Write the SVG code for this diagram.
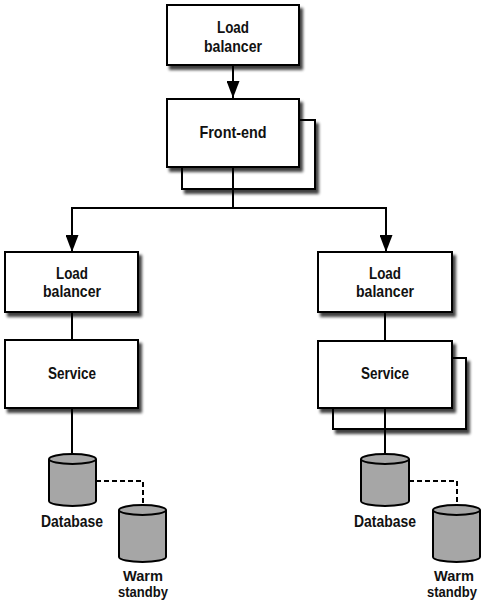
<svg xmlns="http://www.w3.org/2000/svg" width="485" height="606" viewBox="0 0 485 606">
<defs>
<filter id="sh" x="-10%" y="-10%" width="130%" height="140%">
<feGaussianBlur in="SourceAlpha" stdDeviation="1.6"/>
<feOffset dx="3" dy="4" result="b"/>
<feComponentTransfer><feFuncA type="linear" slope="0.75"/></feComponentTransfer>
<feMerge><feMergeNode/><feMergeNode in="SourceGraphic"/></feMerge>
</filter>
<marker id="ah" viewBox="0 0 17 13" refX="17" refY="6.5" markerWidth="17" markerHeight="13" markerUnits="userSpaceOnUse" orient="auto">
<path d="M0,0 L17,6.5 L0,13 Z" fill="#000"/>
</marker>
</defs>
<style>
.box{fill:#fff;stroke:#000;stroke-width:2;filter:url(#sh)}
.cyl{fill:#a6a6a6;stroke:#000;stroke-width:2}
.ln{stroke:#000;stroke-width:2;fill:none}
.dash{stroke:#000;stroke-width:2;fill:none;stroke-dasharray:5,3}
text{font-family:"Liberation Sans",Arial,sans-serif;font-weight:bold;font-size:17px;text-anchor:middle;fill:#111}
text.sm{font-size:15px}
</style>
<g id="connectors">
<line class="ln" x1="233" y1="65" x2="233" y2="98" marker-end="url(#ah)"/>
<line class="ln" x1="233" y1="167" x2="233" y2="208"/>
<polyline class="ln" points="72,216 72,208 386,208 386,216"/>
<line class="ln" x1="72" y1="208" x2="72" y2="252" marker-end="url(#ah)"/>
<line class="ln" x1="386" y1="208" x2="386" y2="252" marker-end="url(#ah)"/>
<line class="ln" x1="72" y1="312" x2="72" y2="340"/>
<line class="ln" x1="385" y1="312" x2="385" y2="341"/>
<line class="ln" x1="72" y1="408" x2="72" y2="458"/>
<line class="ln" x1="385" y1="408" x2="385" y2="458"/>
<polyline class="dash" points="96,481 143,481 143,508"/>
<polyline class="dash" points="409,481 457,481 457,508"/>
</g>
<g id="lb-top">
<rect class="box" x="167" y="5" width="132" height="60"/>
<text x="233" y="33" textLength="32" lengthAdjust="spacingAndGlyphs">Load</text>
<text x="233" y="52" textLength="58" lengthAdjust="spacingAndGlyphs">balancer</text>
</g>
<g id="frontend">
<rect class="box" x="182" y="120" width="133" height="69"/>
<rect class="box" x="167" y="99" width="132" height="68"/>
<line class="ln" x1="233" y1="167" x2="233" y2="189"/>
<text x="233" y="138" textLength="67" lengthAdjust="spacingAndGlyphs">Front-end</text>
</g>
<g id="lb-left">
<rect class="box" x="5" y="252" width="133" height="60"/>
<text x="72" y="279" textLength="32" lengthAdjust="spacingAndGlyphs">Load</text>
<text x="72" y="297" textLength="58" lengthAdjust="spacingAndGlyphs">balancer</text>
</g>
<g id="service-left">
<rect class="box" x="5" y="340" width="133" height="68"/>
<text x="72" y="379" textLength="48" lengthAdjust="spacingAndGlyphs">Service</text>
</g>
<g id="lb-right">
<rect class="box" x="318" y="252" width="134" height="60"/>
<text x="385" y="279" textLength="32" lengthAdjust="spacingAndGlyphs">Load</text>
<text x="385" y="297" textLength="58" lengthAdjust="spacingAndGlyphs">balancer</text>
</g>
<g id="service-right">
<rect class="box" x="333" y="358" width="133" height="71"/>
<rect class="box" x="318" y="341" width="134" height="67"/>
<line class="ln" x1="385" y1="408" x2="385" y2="429"/>
<text x="385" y="379" textLength="48" lengthAdjust="spacingAndGlyphs">Service</text>
</g>
<g id="db-left">
<path class="cyl" d="M49,459 L49,501 A23.5,5 0 0 0 96,501 L96,459"/>
<ellipse class="cyl" cx="72.5" cy="459" rx="23.5" ry="5"/>
<text x="72" y="527" textLength="62" lengthAdjust="spacingAndGlyphs">Database</text>
</g>
<g id="standby-left">
<path class="cyl" d="M119,510 L119,557 A23.5,5 0 0 0 166,557 L166,510"/>
<ellipse class="cyl" cx="142.5" cy="510" rx="23.5" ry="5"/>
<text class="sm" x="143" y="581" textLength="40" lengthAdjust="spacingAndGlyphs">Warm</text>
<text class="sm" x="143" y="597" textLength="50" lengthAdjust="spacingAndGlyphs">standby</text>
</g>
<g id="db-right">
<path class="cyl" d="M361,459 L361,501 A24,5 0 0 0 409,501 L409,459"/>
<ellipse class="cyl" cx="385" cy="459" rx="24" ry="5"/>
<text x="385" y="527" textLength="62" lengthAdjust="spacingAndGlyphs">Database</text>
</g>
<g id="standby-right">
<path class="cyl" d="M433,510 L433,557 A23.5,5 0 0 0 480,557 L480,510"/>
<ellipse class="cyl" cx="456.5" cy="510" rx="23.5" ry="5"/>
<text class="sm" x="454" y="581" textLength="40" lengthAdjust="spacingAndGlyphs">Warm</text>
<text class="sm" x="452" y="597" textLength="50" lengthAdjust="spacingAndGlyphs">standby</text>
</g>
</svg>
